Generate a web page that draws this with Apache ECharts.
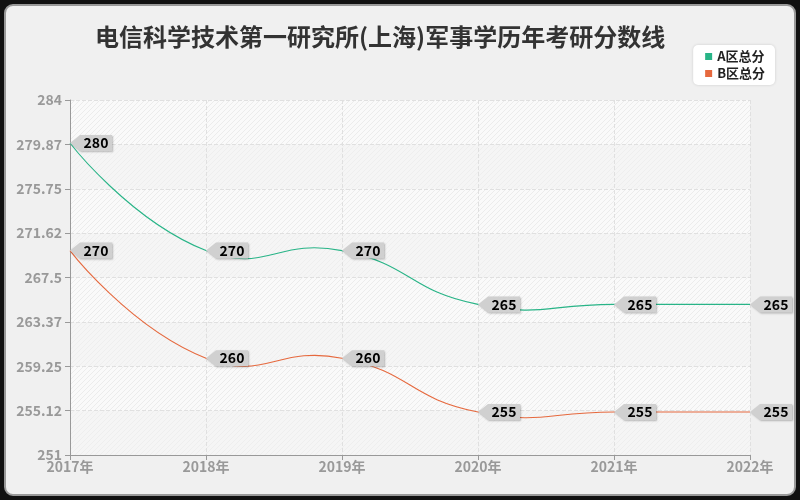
<!DOCTYPE html>
<html>
<head>
<meta charset="utf-8">
<script src="https://cdn.jsdelivr.net/npm/echarts@6/dist/echarts.min.js"></script>
<style>
html,body{margin:0;padding:0;background:#111;width:800px;height:500px;overflow:hidden;}
#frame{position:absolute;left:4px;top:4px;width:788px;height:488px;border:2px solid #999;border-radius:9px;background:#f0f0f0;}
#main{position:absolute;left:0;top:0;width:800px;height:500px;}
</style>
</head>
<body>
<div id="frame"></div>
<div id="main"></div>
<script>
const titleText = '电信科学技术第一研究所(上海)军事学历年考研分数线';
const categories = ['2017年','2018年','2019年','2020年','2021年','2022年'];
const seriesNames = ['A区总分','B区总分'];
const seriesA = [280, 270, 270, 265, 265, 265];
const seriesB = [270, 260, 260, 255, 255, 255];
const yMin = 251, yMax = 284, yInterval = 4.125;
const colorA = '#28b487', colorB = '#e6693e';

function makeHatch(bg, line){
  const c = document.createElement('canvas');
  c.width = 5; c.height = 5;
  const g = c.getContext('2d');
  g.fillStyle = bg; g.fillRect(0,0,5,5);
  g.strokeStyle = line; g.lineWidth = 1;
  g.beginPath();
  g.moveTo(0,5); g.lineTo(5,0);
  g.moveTo(-1,1); g.lineTo(1,-1);
  g.moveTo(4,6); g.lineTo(6,4);
  g.stroke();
  return {image: c, repeat: 'repeat'};
}

const tagPath = 'path://M0,8 L10,0 L42,0 L42,16 L10,16 Z';

// smooth curve drawn through the axes' coordinate system
function mkCurve(name, data, color){
  return {
    name: name, type: 'custom', data: data.map(function(v, i){ return [i, v]; }),
    itemStyle: {color: color},
    z: 2,
    renderItem: function(params, api){
      if (params.dataIndex !== 0) return null;
      const pts = data.map(function(v, i){ return api.coord([i, v]); });
      return {
        type: 'polyline',
        shape: {points: pts, smooth: 0.5},
        style: {stroke: color, lineWidth: 1.1, fill: null}
      };
    }
  };
}
function mkTags(name, data){
  return {
    name: name + '_tag', type: 'line', data: data,
    lineStyle: {opacity: 0}, showSymbol: true, symbol: tagPath,
    symbolSize: [42, 16], symbolOffset: [21, 0],
    itemStyle: {color: '#d0d0d0', shadowColor: 'rgba(0,0,0,0.25)', shadowBlur: 2, shadowOffsetX: 1, shadowOffsetY: 1},
    label: {show: true, position: 'inside', offset: [5, 0], color: '#000', fontSize: 14, fontWeight: 'bold', fontFamily: 'Noto Sans CJK SC'},
    emphasis: {disabled: true},
    tooltip: {show: false},
    z: 5
  };
}

const chart = echarts.init(document.getElementById('main'), null, {renderer: 'canvas'});
chart.setOption({
  backgroundColor: 'transparent',
  animation: false,
  title: {text: titleText, left: 90, top: 20,
    textStyle: {fontSize: 24, fontWeight: 'bold', color: '#333', fontFamily: 'Noto Sans CJK SC'}},
  legend: {data: seriesNames, orient: 'vertical', right: 25, top: 45,
    backgroundColor: '#fff', borderRadius: 5, padding: [5, 10, 5, 12],
    shadowColor: 'rgba(0,0,0,0.15)', shadowBlur: 3,
    icon: 'rect', itemWidth: 7, itemHeight: 7, itemGap: 4,
    textStyle: {fontSize: 13, fontWeight: 'bold', color: '#222', fontFamily: 'Noto Sans CJK SC'}},
  grid: {left: 70, right: 50, top: 100, bottom: 45, show: true, borderWidth: 0,
    backgroundColor: makeHatch('#fafafa', '#ececec')},
  xAxis: {type: 'category', data: categories, boundaryGap: false,
    axisLine: {lineStyle: {color: '#999'}},
    axisTick: {show: true, lineStyle: {color: '#999'}},
    axisLabel: {color: '#999', fontSize: 14, fontWeight: 'bold', fontFamily: 'Noto Sans CJK SC', margin: 5},
    splitLine: {show: true, lineStyle: {type: 'dashed', color: '#e0e0e0'}}},
  yAxis: {type: 'value', min: yMin, max: yMax, interval: yInterval,
    axisLine: {show: true, lineStyle: {color: '#999'}},
    axisTick: {show: true, lineStyle: {color: '#999'}},
    axisLabel: {color: '#999', fontSize: 14, fontWeight: 'bold', fontFamily: 'Noto Sans CJK SC',
      formatter: function(v){ return String(Math.floor(v * 100 + 1e-6) / 100); }},
    splitLine: {show: true, lineStyle: {type: 'dashed', color: '#e0e0e0'}},
    splitArea: {show: true, areaStyle: {color: ['rgba(240,240,240,0.55)', 'rgba(255,255,255,0)']}}},
  color: [colorA, colorB],
  series: [
    mkCurve(seriesNames[0], seriesA, colorA),
    mkCurve(seriesNames[1], seriesB, colorB),
    mkTags(seriesNames[0], seriesA),
    mkTags(seriesNames[1], seriesB)
  ]
});
</script>
</body>
</html>
